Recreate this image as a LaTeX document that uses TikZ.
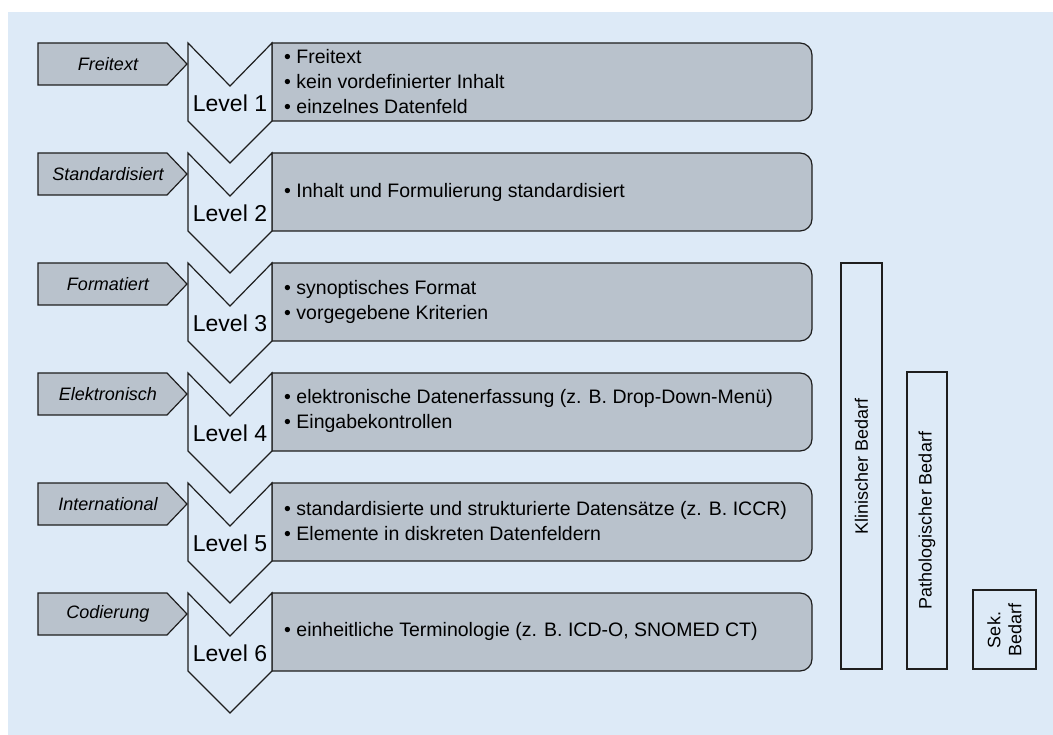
\documentclass[tikz,border=0pt]{standalone}
\usepackage{fontspec}
\setmainfont{Liberation Sans}
\definecolor{bgblue}{RGB}{221,234,247}
\definecolor{boxgray}{RGB}{185,194,204}
\definecolor{linec}{RGB}{30,30,30}
\begin{document}
\begin{tikzpicture}[x=1pt,y=-1pt,
  shapeline/.style={draw=linec,line width=1.2pt,line join=miter},
  boxshape/.style={shapeline,fill=boxgray},
  chevshape/.style={shapeline,fill=bgblue},
  tagshape/.style={shapeline,fill=boxgray},
  barshape/.style={shapeline},
  leveltext/.style={inner sep=0pt,font=\fontsize{23}{27}\selectfont},
  tagtext/.style={inner sep=0pt,font=\fontsize{18}{21}\selectfont\itshape},
  boxtext/.style={inner sep=0pt,anchor=west,align=left,font=\fontsize{19.5}{25}\selectfont},
  bartext/.style={inner sep=0pt,rotate=90,align=center,font=\fontsize{18}{21}\selectfont}]
\useasboundingbox (0,0) rectangle (1053,735);
\fill[bgblue] (8,12) rectangle (1053,735);
% level shapes
\foreach \t in {43,153,263,373,483,593}{
  \pgfmathsetmacro{\b}{\t+78}
  \pgfmathsetmacro{\m}{\t+21}
  % content box with rounded right corners
  \path[boxshape] (272,\t) -- (800,\t) .. controls (806.6,\t) and (812,\t+5.4) .. (812,\t+12)
     -- (812,\b-12) .. controls (812,\b-5.4) and (806.6,\b) .. (800,\b) -- (272,\b) -- cycle;
  % chevron
  \path[chevshape] (188,\t) -- (230,\t+43) -- (272,\t) -- (272,\b) -- (230,\b+42) -- (188,\b) -- cycle;
  % tag
  \path[tagshape] (38,\t) -- (167,\t) -- (187,\m) -- (167,\t+42) -- (38,\t+42) -- cycle;
}
% level labels
\node[leveltext] (lv1) at (230,103) {Level 1};
\node[leveltext] (lv2) at (230,213) {Level 2};
\node[leveltext] (lv3) at (230,323) {Level 3};
\node[leveltext] (lv4) at (230,433) {Level 4};
\node[leveltext] (lv5) at (230,543) {Level 5};
\node[leveltext] (lv6) at (230,653) {Level 6};
% tag labels
\node[tagtext] (tag1) at (108,64) {Freitext};
\node[tagtext] (tag2) at (108,174) {Standardisiert};
\node[tagtext] (tag3) at (108,284) {Formatiert};
\node[tagtext] (tag4) at (108,394) {Elektronisch};
\node[tagtext] (tag5) at (108,504) {International};
\node[tagtext] (tag6) at (108,614) {Codierung};
% box texts
\node[boxtext] (box1) at (284,82) {• Freitext\\• kein vordefinierter Inhalt\\• einzelnes Datenfeld};
\node[boxtext] (box2) at (284,192) {• Inhalt und Formulierung standardisiert};
\node[boxtext] (box3) at (284,302) {• synoptisches Format\\• vorgegebene Kriterien};
\node[boxtext] (box4) at (284,411) {• elektronische Datenerfassung (z. B. Drop-Down-Menü)\\• Eingabekontrollen};
\node[boxtext] (box5) at (284,521) {• standardisierte und strukturierte Datensätze (z. B. ICCR)\\• Elemente in diskreten Datenfeldern};
\node[boxtext] (box6) at (284,631) {• einheitliche Terminologie (z. B. ICD-O, SNOMED CT)};
% need bars
\path[barshape] (841,263) rectangle (882,669);
\path[barshape] (907,372) rectangle (947,669);
\path[barshape] (973,590) rectangle (1036,669);
\node[bartext] (bar1) at (861.5,466) {Klinischer Bedarf};
\node[bartext] (bar2) at (927,520.5) {Pathologischer Bedarf};
\node[bartext] (bar3) at (1004.5,630) {Sek.\\Bedarf};
\end{tikzpicture}
\end{document}
